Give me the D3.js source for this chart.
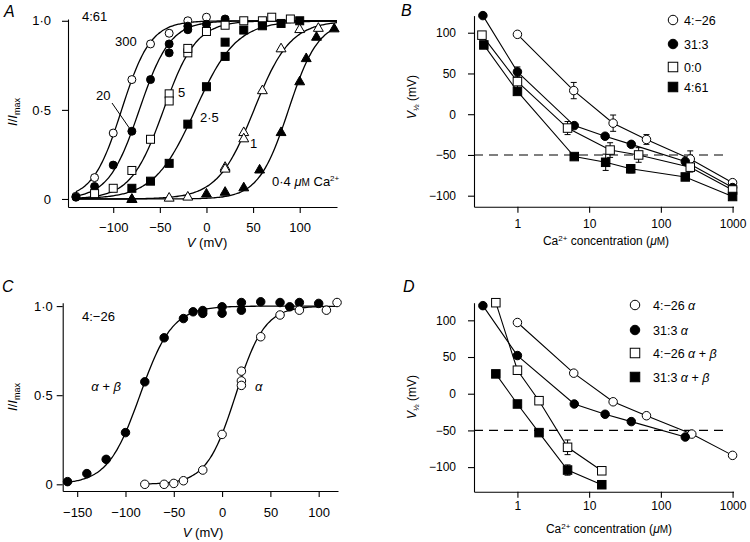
<!DOCTYPE html>
<html><head><meta charset="utf-8">
<script src="https://cdn.jsdelivr.net/npm/d3@7"></script>
<style>body{margin:0;background:#fff} svg{display:block}</style>
</head><body><svg id="c" width="750" height="542"></svg>
<script>
// ---------------- Panel A data (4:61, I/Imax vs V) ----------------
const aLabels = ["300","20","5","2·5","1","0·4"];
const aTypes  = ["oc","fc","os","fs","ot","ft"];
const aV = [
  [-140,-120,-100,-80,-60,-40,-20,0],
  [-140,-120,-100,-80,-60,-40,-40,-20,-20,0,20],
  [-120,-100,-80,-60,-40,-40,-20,-20,0,20,40,60,70,90],
  [-80,-60,-40,-20,0,20,20,40,60,80,100],
  [-80,-40,-20,20,20,40,40,60,80,100,120],
  [-80,0,20,40,57,80,100,107,118,137]
];
const aI = [
  [0.015,0.12,0.37,0.67,0.87,0.93,1.0,1.02],
  [0.01,0.07,0.19,0.38,0.67,0.82,0.87,0.95,0.97,0.98,1.01],
  [0.03,0.06,0.16,0.335,0.59,0.55,0.82,0.845,0.94,0.975,1.0,1.0,1.02,1.01],
  [0.06,0.1,0.2,0.42,0.63,0.8,0.88,0.948,0.972,0.985,1.0],
  [0,0.007,0.013,0.18,0.17,0.375,0.34,0.61,0.845,0.953,0.96],
  [0,0.03,0.04,0.065,0.165,0.375,0.66,0.79,0.91,0.957]
];
// Boltzmann fit parameters (V1/2, slope mV)
const aFitV50 = [-91,-72,-46,-12,51,88];
const aFitK   = [15.5,16.5,17.5,22,19.5,16];
const aXTicks = [-100,-50,0,50,100];
const aYTicks = [0,0.5,1];

// ---------------- Panel B data (V1/2 vs Ca2+) ----------------
const bNames = ["4:\u221226","31:3","0:0","4:61"];
const bTypes = ["oc","fc","os","fs"];
const bConc = [
  [1,6.1,21.6,63,257,1000],
  [0.33,1,6.2,16.7,38.7,219,1000],
  [0.32,1,5.0,19.6,49,257,1000],
  [0.34,1,6.2,17,38,219,1000]
];
const bV50 = [
  [98,29,-11,-31,-55,-84],
  [121,52,-14,-27,-37,-58,-90],
  [97,40,-17,-44,-50,-65,-93],
  [85,28,-52,-59,-67,-77,-101]
];
const bErr = [
  [0,10,10,6,10,3],
  [0,6,0,0,0,4,0],
  [0,8,8,9,9,6,3],
  [0,3,0,10,5,0,0]
];
const bXTicks = [1,10,100,1000];
const bYTicks = [-100,-50,0,50,100];

// ---------------- Panel C data (4:-26, alpha vs alpha+beta) ----------------
const cTypes = ["fc","oc"];
const cV = [
  [-160,-140,-120,-100,-80,-60,-40,-30,-20,-20,0,0,20,20,40,60,70,80,100],
  [-80,-60,-50,-40,-20,0,20,20,20,40,60,80,108,119]
];
const cI = [
  [0.015,0.06,0.14,0.29,0.575,0.822,0.93,0.968,0.959,0.975,0.996,0.96,1.02,0.977,1.024,1.02,0.996,1.02,1.015],
  [0,0,0.005,0.02,0.08,0.28,0.58,0.635,0.555,0.828,0.95,0.977,0.977,1.02]
];
const cFitV50 = [-85,14];
const cFitK   = [16.7,15];
const cFitRange = [[-160,100],[-80,120]];
const cXTicks = [-150,-100,-50,0,50,100];
const cYTicks = [0,0.5,1];

// ---------------- Panel D data ----------------
const dNames = ["4:\u221226 \u03b1","31:3 \u03b1","4:\u221226 \u03b1 + \u03b2","31:3 \u03b1 + \u03b2"];
const dTypes = ["oc","fc","os","fs"];
const dConc = [
  [1,6.1,21.6,63,270,1000],
  [0.33,1,6.2,16.7,38.7,219],
  [0.5,1,2,5,15],
  [0.5,1,2,5,15]
];
const dV50 = [
  [97,28,-11,-30,-55,-84],
  [120,52,-14,-28,-38,-59],
  [124,32,-9.5,-73,-105],
  [27,-14,-53,-104,-124]
];
const dErr = [
  [0,0,0,0,0,0],
  [0,0,0,0,0,0],
  [0,5,0,10,0],
  [0,0,0,7,0]
];

// ---------------- drawing ----------------
const FONT = '"Liberation Sans", Arial, Helvetica, sans-serif';
const svg = d3.select("#c");
svg.append("rect").attr("width",750).attr("height",542).attr("fill","#fff");

const fmtSigned = d => d < 0 ? "\u2212" + Math.abs(d) : "" + d;
const fmtFrac = d => d === 0 ? "0" : d.toFixed(1).replace(".", "\u00b7");

function marker(g, type, x, y, s) {
  const fill = type[0] === "f" ? "#000" : "#fff";
  let el;
  if (type[1] === "c") el = g.append("circle").attr("cx", x).attr("cy", y).attr("r", s/2);
  else if (type[1] === "s") el = g.append("rect").attr("x", x-s/2).attr("y", y-s/2).attr("width", s).attr("height", s);
  else el = g.append("path").attr("d", `M${x},${y-s*0.58}L${x+s*0.55},${y+s*0.38}L${x-s*0.55},${y+s*0.38}Z`);
  el.attr("fill", fill).attr("stroke", "#000").attr("stroke-width", 1);
}

function axes(x, y, o) {
  const ax = svg.append("g").attr("transform", `translate(0,${y.range()[0]})`)
    .call(d3.axisBottom(x).tickValues(o.xt).tickFormat(o.xf).tickSize(6).tickSizeOuter(0).tickPadding(o.xp));
  const ay = svg.append("g").attr("transform", `translate(${x.range()[0]},0)`)
    .call(d3.axisLeft(y).tickValues(o.yt).tickFormat(o.yf).tickSize(6).tickSizeOuter(0).tickPadding(o.yp));
  [ax, ay].forEach(a => {
    a.selectAll("text").attr("font-size", o.fs).attr("font-family", FONT).attr("fill", "#000");
    a.selectAll("path,line").attr("stroke", "#000").attr("stroke-width", 1.1);
  });
}

function txt(x, y, s, fs, opts = {}) {
  const t = svg.append("text").attr("x", x).attr("y", y).attr("font-size", fs)
    .attr("font-family", FONT).attr("fill", "#000").text(s);
  if (opts.italic) t.attr("font-style", "italic");
  if (opts.anchor) t.attr("text-anchor", opts.anchor);
  return t;
}

// panel labels
txt(4, 17, "A", 16, {italic: true});
txt(401, 16, "B", 16, {italic: true});
txt(2, 292, "C", 16, {italic: true});
txt(403, 292, "D", 16, {italic: true});

// ===== Panel A =====
{
  const x = d3.scaleLinear().domain([-148.5, 140]).range([68, 337]);
  const y = d3.scaleLinear().domain([-0.045, 1.01]).range([207, 19]);
  axes(x, y, {xt: aXTicks, xf: fmtSigned, yt: aYTicks, yf: fmtFrac, xp: 10, yp: 11, fs: 13});
  const g = svg.append("g");
  const line = d3.line().x(d => x(d[0])).y(d => y(d[1])).curve(d3.curveBasis);
  aFitV50.forEach((v50, i) => {
    const pts = d3.range(-140, 140.01, 2).map(v => [v, 1/(1+Math.exp(-(v - v50)/aFitK[i]))]);
    g.append("path").attr("d", line(pts)).attr("fill", "none").attr("stroke", "#000").attr("stroke-width", 1.3);
  });
  aV.forEach((vs, i) => vs.forEach((v, j) => marker(g, aTypes[i], x(v), y(aI[i][j]), aTypes[i][1]==="t" ? 9 : 8)));
  txt(82, 21, "4:61", 13);
  txt(115, 46, "300", 13);
  txt(96, 100, "20", 13);
  svg.append("line").attr("x1", 112).attr("y1", 103).attr("x2", 130).attr("y2", 129).attr("stroke", "#000").attr("stroke-width", 1);
  txt(178, 97, "5", 13);
  txt(200, 122, "2\u00b75", 13);
  txt(250, 148, "1", 13);
  const t = txt(272, 186, "0\u00b74 ", 13);
  t.append("tspan").attr("font-style", "italic").text("\u03bc");
  t.append("tspan").attr("font-size", 10).text("M");
  t.append("tspan").text(" Ca");
  t.append("tspan").attr("font-size", 8).attr("dy", -5).text("2+");
  // axis titles
  const xl = txt(207, 247, "", 13, {anchor: "middle"});
  xl.append("tspan").attr("font-style", "italic").text("V");
  xl.append("tspan").text(" (mV)");
  const yl = svg.append("text").attr("transform", "translate(17,112) rotate(-90)").attr("text-anchor", "middle")
    .attr("font-size", 13).attr("font-family", FONT);
  yl.append("tspan").attr("font-style", "italic").text("I");
  yl.append("tspan").text("/");
  yl.append("tspan").attr("font-style", "italic").text("I");
  yl.append("tspan").attr("font-size", 9).attr("dy", 3).text("max");
}

function vhalfPanel(x, y, conc, vals, errs, types, names, o) {
  axes(x, y, {xt: bXTicks, xf: d => "" + d, yt: bYTicks, yf: fmtSigned, xp: o.xp, yp: 12, fs: 12});
  svg.append("line").attr("x1", x.range()[0]).attr("x2", o.dashEnd).attr("y1", y(-50)).attr("y2", y(-50))
    .attr("stroke", "#000").attr("stroke-width", 1.1).attr("stroke-dasharray", "9,6");
  const g = svg.append("g");
  const line = d3.line().x(d => x(d[0])).y(d => y(d[1]));
  conc.forEach((cs, i) => {
    g.append("path").attr("d", line(cs.map((c, j) => [c, vals[i][j]]))).attr("fill", "none").attr("stroke", "#000").attr("stroke-width", 1.1);
  });
  conc.forEach((cs, i) => cs.forEach((c, j) => {
    const e = errs[i][j];
    if (e > 0) {
      const cx = x(c), y1 = y(vals[i][j] + e), y2 = y(vals[i][j] - e);
      g.append("line").attr("x1", cx).attr("x2", cx).attr("y1", y1).attr("y2", y2).attr("stroke", "#000");
      [y1, y2].forEach(yy => g.append("line").attr("x1", cx-3).attr("x2", cx+3).attr("y1", yy).attr("y2", yy).attr("stroke", "#000"));
    }
  }));
  conc.forEach((cs, i) => cs.forEach((c, j) => marker(g, types[i], x(c), y(vals[i][j]), 8.5)));
  names.forEach((n, i) => {
    marker(svg, types[i], o.legX, o.legY[i], 9.5);
    const parts = n.split(/([\u03b1\u03b2])/);
    const t = txt(o.legTX, o.legY[i] + 4.5, "", 12.5);
    parts.forEach(p => { if (p) { const s = t.append("tspan").text(p); if (/[\u03b1\u03b2]/.test(p)) s.attr("font-style", "italic"); } });
  });
  const xl = txt(o.xlX, o.xlY, "Ca", 12, {anchor: "middle"});
  xl.append("tspan").attr("font-size", 8).attr("dy", -4).text("2+");
  xl.append("tspan").attr("dy", 4).text(" concentration (");
  xl.append("tspan").attr("font-style", "italic").text("\u03bc");
  xl.append("tspan").attr("font-size", 10).text("M");
  xl.append("tspan").text(")");
  const yl = svg.append("text").attr("transform", `translate(${o.ylX},${o.ylY}) rotate(-90)`).attr("text-anchor", "middle")
    .attr("font-size", 12).attr("font-family", FONT);
  yl.append("tspan").attr("font-style", "italic").text("V");
  yl.append("tspan").attr("font-size", 8).attr("dy", 3).text("\u00bd");
  yl.append("tspan").attr("dy", -3).text(" (mV)");
}

// ===== Panel B =====
{
  const x = d3.scaleLog().domain([0.248, 1030]).range([474, 733.5]);
  const y = d3.scaleLinear().domain([-113.5, 121]).range([206.7, 15.6]);
  vhalfPanel(x, y, bConc, bV50, bErr, bTypes, bNames,
    {xp: 7, dashEnd: 728, legX: 673, legY: [20, 44, 67, 87], legTX: 684, xlX: 606, xlY: 245, ylX: 416, ylY: 97});
}

// ===== Panel C =====
{
  const x = d3.scaleLinear().domain([-165, 120]).range([62.7, 338]);
  const y = d3.scaleLinear().domain([-0.0376, 1.019]).range([491, 302.7]);
  axes(x, y, {xt: cXTicks, xf: fmtSigned, yt: cYTicks, yf: fmtFrac, xp: 11, yp: 4, fs: 13});
  const g = svg.append("g");
  const line = d3.line().x(d => x(d[0])).y(d => y(d[1])).curve(d3.curveBasis);
  cFitV50.forEach((v50, i) => {
    const pts = d3.range(cFitRange[i][0], cFitRange[i][1] + 0.01, 2).map(v => [v, 1/(1+Math.exp(-(v - v50)/cFitK[i]))]);
    g.append("path").attr("d", line(pts)).attr("fill", "none").attr("stroke", "#000").attr("stroke-width", 1.3);
  });
  cV.forEach((vs, i) => vs.forEach((v, j) => marker(g, cTypes[i], x(v), y(cI[i][j]), 8.5)));
  txt(82, 321, "4:\u221226", 13);
  txt(106, 391, "\u03b1 + \u03b2", 13, {anchor: "middle", italic: true});
  txt(255, 391, "\u03b1", 13, {italic: true});
  const xl = txt(203, 537, "", 13, {anchor: "middle"});
  xl.append("tspan").attr("font-style", "italic").text("V");
  xl.append("tspan").text(" (mV)");
  const yl = svg.append("text").attr("transform", "translate(17,397) rotate(-90)").attr("text-anchor", "middle")
    .attr("font-size", 13).attr("font-family", FONT);
  yl.append("tspan").attr("font-style", "italic").text("I");
  yl.append("tspan").text("/");
  yl.append("tspan").attr("font-style", "italic").text("I");
  yl.append("tspan").attr("font-size", 9).attr("dy", 3).text("max");
}

// ===== Panel D =====
{
  const x = d3.scaleLog().domain([0.248, 1030]).range([474, 733.5]);
  const y = d3.scaleLinear().domain([-133.5, 124]).range([491.7, 302.7]);
  vhalfPanel(x, y, dConc, dV50, dErr, dTypes, dNames,
    {xp: 4, dashEnd: 728, legX: 635, legY: [305, 330, 353, 377], legTX: 653, xlX: 609, xlY: 533, ylX: 416, ylY: 397});
}
</script></body></html>
